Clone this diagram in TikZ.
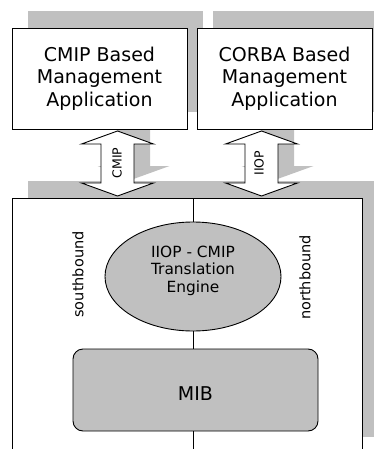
\documentclass[tikz,border=0pt]{standalone}
\usepackage{fontspec}
\setmainfont{DejaVu Sans}
\usetikzlibrary{shapes.geometric,shadows}
\definecolor{shade}{HTML}{C0C0C0}
\tikzset{
  dblarr/.pic={\path[pic actions] (0pt,0pt) -- (36pt,-13pt) -- (16.5pt,-13pt) -- (16.5pt,-52pt) -- (36pt,-52pt) -- (0pt,-65pt) -- (-36pt,-52pt) -- (-16.5pt,-52pt) -- (-16.5pt,-13pt) -- (-36pt,-13pt) -- cycle;},
  sh/.style={general shadow={shadow xshift=16pt, shadow yshift=17pt, fill=shade}},
  outl/.style={draw=black, line width=0.9pt},
  appbox/.style={outl, fill=white, sh, minimum width=175pt, minimum height=101pt, inner sep=0pt, align=center, font=\fontsize{19}{22.5}\selectfont},
  arrlbl/.style={rotate=90, inner sep=0pt, font=\fontsize{12.5}{14}\selectfont},
  sidelbl/.style={rotate=90, inner sep=0pt, font=\fontsize{14.5}{17}\selectfont},
}
\begin{document}
\begin{tikzpicture}[x=1pt,y=1pt]
\useasboundingbox (0,0) rectangle (374,-449);
\clip (0,0) rectangle (374,-449);
% bottom box
\node[outl, fill=white, sh, minimum width=350pt, minimum height=256pt, inner sep=0pt] (gw) at (187,-326) {};
% arrows
\pic[fill=shade] at (133.5,-114) {dblarr};
\pic[fill=shade] at (277.5,-114) {dblarr};
\pic[outl, fill=white] at (117.5,-131) {dblarr};
\pic[outl, fill=white] at (261.5,-131) {dblarr};
\node[arrlbl] (cmiplbl) at (117,-163) {CMIP};
\node[arrlbl] (iioplbl) at (259,-163) {IIOP};
% top boxes
\node[appbox] (cmipapp) at (99.5,-78.5) {CMIP Based\\Management\\Application};
\node[appbox] (corbaapp) at (284.5,-78.5) {CORBA Based\\Management\\Application};
% engine
\node[ellipse, outl, fill=shade, minimum width=176pt, minimum height=109pt, inner sep=0pt,
  label={[name=engtxt, align=center, inner sep=0pt, yshift=5.8pt, font=\fontsize{15.4}{17.5}\selectfont]center:IIOP - CMIP\\Translation\\Engine}] (eng) at (193,-276.5) {};
\node[outl, fill=shade, rounded corners=10pt, minimum width=245pt, minimum height=82pt, inner sep=0pt,
  label={[name=mibtxt, inner sep=0pt, yshift=-3.6pt, font=\fontsize{19}{22}\selectfont]center:MIB}] (mib) at (195.5,-390) {};
% connectors
\draw[outl] (eng.north) -- (eng.north |- gw.north);
\draw[outl] (eng.south) -- (eng.south |- mib.north);
\draw[outl] (mib.south -| eng.south) -- (eng.south |- gw.south);
% side labels
\node[sidelbl] (south) at (78,-274.5) {southbound};
\node[sidelbl] (north) at (305,-277.5) {northbound};
\end{tikzpicture}
\end{document}
